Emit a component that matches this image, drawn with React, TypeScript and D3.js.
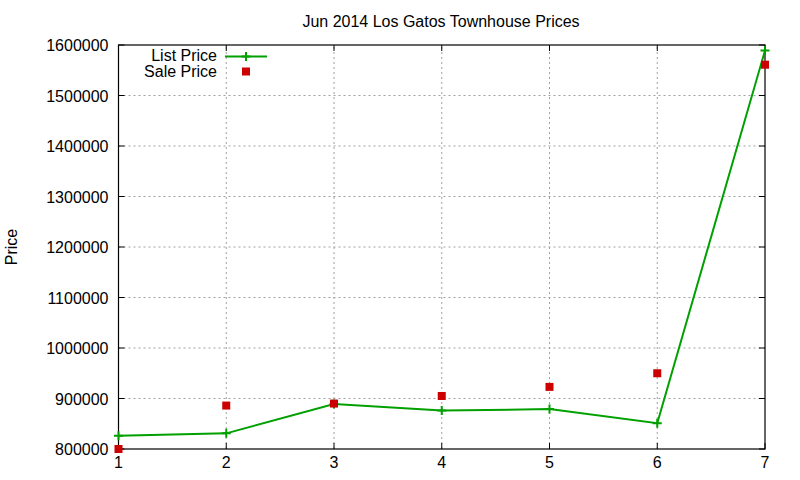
import { useEffect, useRef } from 'react'
import * as d3 from 'd3'

// Chart data
const xValues = [1, 2, 3, 4, 5, 6, 7]
const listPrice = [826000, 831000, 889000, 876000, 879000, 851000, 1589000]
const salePrice = [800000, 886000, 890000, 905000, 923000, 950000, 1561000]
const yTicks = [800000, 900000, 1000000, 1100000, 1200000, 1300000, 1400000, 1500000, 1600000]
const xTicks = [1, 2, 3, 4, 5, 6, 7]

const title = 'Jun 2014 Los Gatos Townhouse Prices'
const yLabel = 'Price'
const listLabel = 'List Price'
const saleLabel = 'Sale Price'

export default function App() {
  const svgRef = useRef<SVGSVGElement>(null)
  const width = 800
  const height = 480

  useEffect(() => {
    if (!svgRef.current) return
    const svg = d3.select(svgRef.current)
    svg.selectAll('*').remove()

    const margin = { top: 45, right: 35, bottom: 31, left: 118.5 }
    const font = 'Liberation Sans, Arial, sans-serif'
    const fontSize = '16px'
    const green = '#00a000'
    const red = '#cc0000'
    const tickLen = 6

    const x = d3.scaleLinear()
      .domain([1, 7])
      .range([margin.left, width - margin.right])

    const y = d3.scaleLinear()
      .domain([800000, 1600000])
      .range([height - margin.bottom, margin.top])

    const x0 = margin.left
    const x1 = width - margin.right
    const y0 = height - margin.bottom
    const y1 = margin.top

    // Grid
    yTicks.forEach(t => {
      if (t === 800000 || t === 1600000) return
      svg.append('line')
        .attr('x1', x0).attr('x2', x1)
        .attr('y1', y(t)).attr('y2', y(t))
        .style('stroke', '#a0a0a0')
        .style('stroke-width', '1px')
        .style('stroke-dasharray', '2,3')
    })
    xTicks.forEach(t => {
      if (t === 1 || t === 7) return
      svg.append('line')
        .attr('x1', x(t)).attr('x2', x(t))
        .attr('y1', y0).attr('y2', y1)
        .style('stroke', '#a0a0a0')
        .style('stroke-width', '1px')
        .style('stroke-dasharray', '2,3')
    })

    // Ticks (inside, mirrored)
    yTicks.forEach(t => {
      svg.append('line')
        .attr('x1', x0).attr('x2', x0 + tickLen)
        .attr('y1', y(t)).attr('y2', y(t))
        .style('stroke', '#000').style('stroke-width', '1px')
      svg.append('line')
        .attr('x1', x1).attr('x2', x1 - tickLen)
        .attr('y1', y(t)).attr('y2', y(t))
        .style('stroke', '#000').style('stroke-width', '1px')
      svg.append('text')
        .attr('x', x0 - 10)
        .attr('y', y(t) + 6)
        .attr('text-anchor', 'end')
        .style('font-family', font)
        .style('font-size', fontSize)
        .style('fill', '#000')
        .text(t)
    })
    xTicks.forEach(t => {
      svg.append('line')
        .attr('x1', x(t)).attr('x2', x(t))
        .attr('y1', y0).attr('y2', y0 - tickLen)
        .style('stroke', '#000').style('stroke-width', '1px')
      svg.append('line')
        .attr('x1', x(t)).attr('x2', x(t))
        .attr('y1', y1).attr('y2', y1 + tickLen)
        .style('stroke', '#000').style('stroke-width', '1px')
      svg.append('text')
        .attr('x', x(t))
        .attr('y', y0 + 18.5)
        .attr('text-anchor', 'middle')
        .style('font-family', font)
        .style('font-size', fontSize)
        .style('fill', '#000')
        .text(t)
    })

    // Border
    svg.append('rect')
      .attr('x', x0).attr('y', y1)
      .attr('width', x1 - x0).attr('height', y0 - y1)
      .style('fill', 'none')
      .style('stroke', '#000')
      .style('stroke-width', '1.2px')

    // Title and axis label
    svg.append('text')
      .attr('x', 441)
      .attr('y', 26.5)
      .attr('text-anchor', 'middle')
      .style('font-family', font)
      .style('font-size', fontSize)
      .text(title)

    svg.append('text')
      .attr('transform', `translate(17, ${(y0 + y1) / 2}) rotate(-90)`)
      .attr('text-anchor', 'middle')
      .style('font-family', font)
      .style('font-size', fontSize)
      .text(yLabel)

    // List price line
    const pts = xValues.map((v, i) => ({ x: v, y: listPrice[i] }))
    const line = d3.line<{ x: number, y: number }>()
      .x(d => x(d.x))
      .y(d => y(d.y))

    svg.append('path')
      .datum(pts)
      .attr('d', line)
      .style('fill', 'none')
      .style('stroke', green)
      .style('stroke-width', '2px')

    const plus = (cx: number, cy: number) => {
      svg.append('path')
        .attr('d', `M${cx - 4.5},${cy}H${cx + 4.5}M${cx},${cy - 4.5}V${cy + 4.5}`)
        .style('stroke', green)
        .style('stroke-width', '2px')
    }
    pts.forEach(d => plus(x(d.x), y(d.y)))

    // Sale price squares
    xValues.forEach((v, i) => {
      svg.append('rect')
        .attr('x', x(v) - 4)
        .attr('y', y(salePrice[i]) - 4)
        .attr('width', 8)
        .attr('height', 8)
        .style('fill', red)
    })

    // Legend
    svg.append('text')
      .attr('x', 217)
      .attr('y', 61)
      .attr('text-anchor', 'end')
      .style('font-family', font)
      .style('font-size', fontSize)
      .text(listLabel)
    svg.append('line')
      .attr('x1', 225).attr('x2', 267)
      .attr('y1', 56.5).attr('y2', 56.5)
      .style('stroke', green)
      .style('stroke-width', '2px')
    plus(246, 56.5)

    svg.append('text')
      .attr('x', 217)
      .attr('y', 77)
      .attr('text-anchor', 'end')
      .style('font-family', font)
      .style('font-size', fontSize)
      .text(saleLabel)
    svg.append('rect')
      .attr('x', 242).attr('y', 67.5)
      .attr('width', 8).attr('height', 8)
      .style('fill', red)
  }, [])

  return (
    <>
      <style>{'body{margin:0;background:#fff}'}</style>
      <svg ref={svgRef} width={width} height={height} style={{ display: 'block' }} />
    </>
  )
}
